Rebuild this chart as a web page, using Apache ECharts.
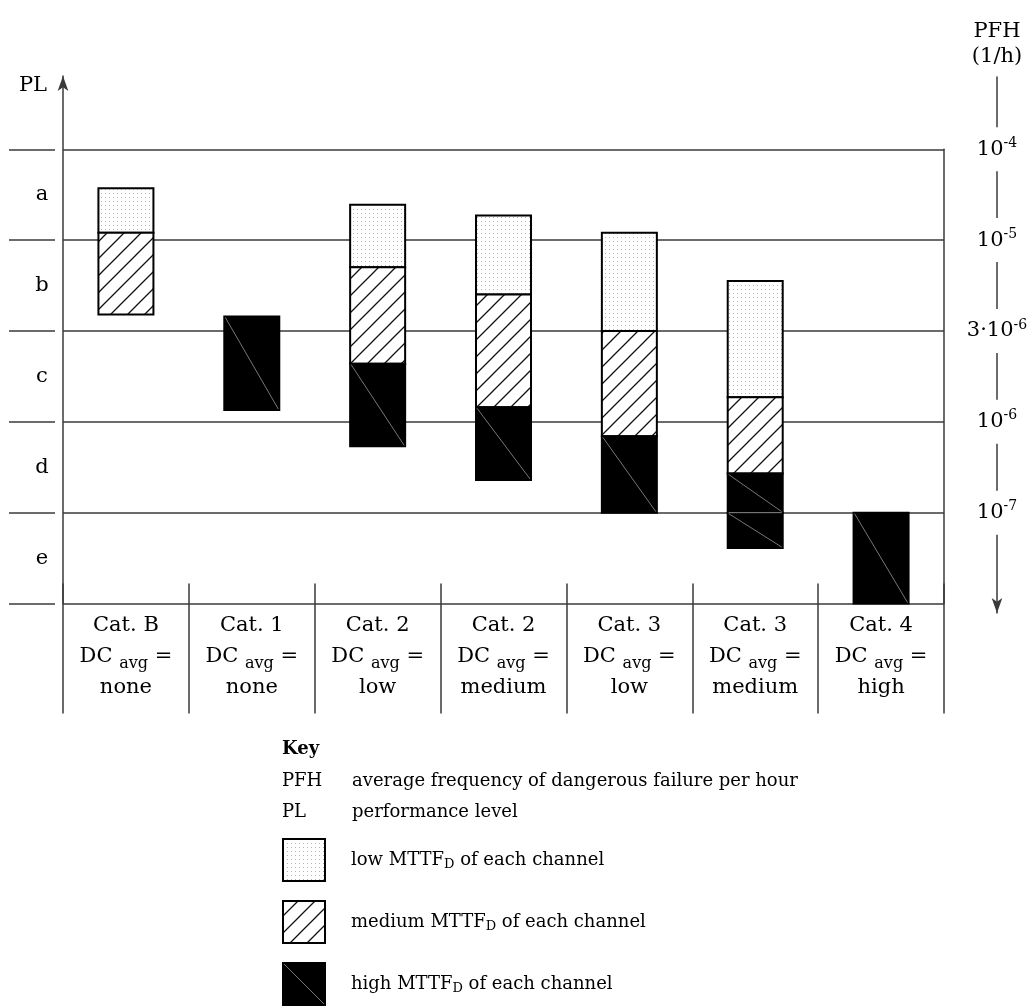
<!DOCTYPE html>
<html>
<head>
<meta charset="utf-8">
<script src="https://cdn.jsdelivr.net/npm/echarts@6/dist/echarts.min.js"></script>
<style>
  html, body { margin: 0; padding: 0; background: #fff; }
  #chart { width: 1036px; height: 1008px; }
</style>
</head>
<body>
<div id="chart"></div>
<script>
// ---------- data ----------
const categories = ['Cat. B', 'Cat. 1', 'Cat. 2', 'Cat. 2', 'Cat. 3', 'Cat. 3', 'Cat. 4'];
const dcAvg = ['none', 'none', 'low', 'medium', 'low', 'medium', 'high'];
// PL bands from bottom to top (value scale: e = 0..1, d = 1..2, ... a = 4..5)
const plLevels = ['e', 'd', 'c', 'b', 'a'];
const plLabelValues = [0.5, 1.5, 2.5, 3.5, 4.5];
// PFH tick labels at band boundaries 1..5
const pfhValues = [1, 2, 3, 4, 5];
const pfhBase = ['10', '10', '3·10', '10', '10'];
const pfhExp = ['-7', '-6', '-6', '-5', '-4'];
// segments: [category index, lower bound, upper bound]
const lowMttf = [[0, 4.08, 4.57], [2, 3.70, 4.39], [3, 3.40, 4.27], [4, 3.00, 4.08], [5, 2.27, 3.55]];
const mediumMttf = [[0, 3.18, 4.08], [2, 2.64, 3.70], [3, 2.16, 3.40], [4, 1.84, 3.00], [5, 1.43, 2.27]];
const highMttf = [[1, 2.13, 3.16], [2, 1.73, 2.64], [3, 1.36, 2.16], [4, 1.00, 1.84], [5, 1.00, 1.43], [5, 0.61, 1.00], [6, 0.00, 1.00]];
const keyRows = [['PFH', 'average frequency of dangerous failure per hour'], ['PL', 'performance level']];

// ---------- styling helpers ----------
const FONT = 'DejaVu Serif';
const LINE = '#3a3a3a';

function makeCanvas(w, h) { const c = document.createElement('canvas'); c.width = w; c.height = h; return c; }
const dotCanvas = (function () {
  const c = makeCanvas(4, 4); const g = c.getContext('2d');
  g.fillStyle = '#fff'; g.fillRect(0, 0, 4, 4);
  g.fillStyle = '#b4b4b4'; g.fillRect(1, 1, 1, 1);
  return c;
})();
const hatchCanvas = (function () {
  const s = 17; const c = makeCanvas(s, s); const g = c.getContext('2d');
  g.fillStyle = '#fff'; g.fillRect(0, 0, s, s);
  g.strokeStyle = '#111'; g.lineWidth = 1.3;
  g.beginPath();
  g.moveTo(0, s); g.lineTo(s, 0);
  g.moveTo(-2, 2); g.lineTo(2, -2);
  g.moveTo(s - 2, s + 2); g.lineTo(s + 2, s - 2);
  g.stroke();
  return c;
})();
const fills = {
  low: { image: dotCanvas, repeat: 'repeat' },
  medium: { image: hatchCanvas, repeat: 'repeat' },
  high: '#000'
};

function legendIcon(kind) {
  const w = 44, h = 44; const c = makeCanvas(w, h); const g = c.getContext('2d');
  if (kind === 'high') { g.fillStyle = '#000'; }
  else { g.fillStyle = g.createPattern(kind === 'low' ? dotCanvas : hatchCanvas, 'repeat'); }
  g.fillRect(0, 0, w, h);
  if (kind === 'high') {
    g.strokeStyle = '#777'; g.lineWidth = 1;
    g.beginPath(); g.moveTo(1, 1); g.lineTo(w - 1, h - 1); g.stroke();
  }
  g.strokeStyle = '#000'; g.lineWidth = 2; g.strokeRect(1, 1, w - 2, h - 2);
  return 'image://' + c.toDataURL();
}

function makeRender(kind) {
  return function (params, api) {
    const c = api.value(0), lo = api.value(1), hi = api.value(2);
    const pTop = api.coord([c, hi]);
    const pBot = api.coord([c, lo]);
    const w = api.size([1, 0])[0] * 0.437;
    const x = pTop[0] - w / 2, y = pTop[1], h = pBot[1] - pTop[1];
    const children = [{
      type: 'rect', shape: { x: x, y: y, width: w, height: h },
      style: { fill: fills[kind], stroke: '#000', lineWidth: 2 }
    }];
    if (kind === 'high') {
      children.push({ type: 'line', shape: { x1: x + 1, y1: y + 1, x2: x + w - 1, y2: y + h - 1 }, style: { stroke: '#777', lineWidth: 1 } });
      const continues = highMttf.some(s => s[0] === c && s[1] === hi);
      if (continues) {
        children.push({ type: 'line', shape: { x1: x + 1, y1: y, x2: x + w - 1, y2: y }, style: { stroke: '#888', lineWidth: 1 } });
      }
    }
    return { type: 'group', children: children };
  };
}

const legendText = { low: 'low', medium: 'medium', high: 'high' };

const option = {
  backgroundColor: '#fff',
  animation: false,
  textStyle: { fontFamily: FONT, color: '#000' },
  grid: [
    // 0: main plot (bars)
    { left: 63, width: 881, top: 149.25, height: 454.25 },
    // 1: short left line stubs
    { left: 9, width: 46, top: 149.25, height: 454.25 },
    // 2: PFH axis on the right
    { left: 960, right: 39, top: 77, bottom: 395 },
    // 3: PL arrow axis
    { left: 63, width: 10, top: 76, bottom: 404.5 }
  ],
  xAxis: [
    {
      type: 'category', gridIndex: 0, position: 'bottom',
      data: categories.map((c, i) => c + ' ' + dcAvg[i]),
      boundaryGap: true,
      axisLine: { show: false },
      axisTick: { show: true, interval: 0, length: 110, lineStyle: { color: LINE, width: 1.5 } },
      axisLabel: {
        interval: 0, margin: 7,
        formatter: function (v, i) {
          return '{t|' + categories[i] + '}\n{t|DC }{s|avg}{t| =}\n{t|' + dcAvg[i] + '}';
        },
        rich: {
          t: { fontFamily: FONT, fontSize: 21, lineHeight: 31, color: '#000' },
          s: { fontFamily: FONT, fontSize: 16, lineHeight: 31, color: '#000', padding: [14, 0, 0, 0] }
        }
      },
      splitLine: { show: false }
    },
    {
      type: 'category', gridIndex: 0, position: 'bottom', offset: 0,
      data: categories.map((c, i) => c + ' ' + dcAvg[i]),
      boundaryGap: true,
      axisLine: { show: false },
      axisTick: { show: true, inside: true, interval: 0, length: 20, lineStyle: { color: LINE, width: 1.5 } },
      axisLabel: { show: false },
      splitLine: { show: false }
    },
    { type: 'value', gridIndex: 1, show: false, min: 0, max: 1 },
    { type: 'value', gridIndex: 2, show: false, min: 0, max: 1 },
    { type: 'value', gridIndex: 3, show: false, min: 0, max: 1 }
  ],
  yAxis: [
    {
      type: 'value', gridIndex: 0, min: 0, max: 5, interval: 1,
      axisLine: { show: false }, axisTick: { show: false },
      splitLine: { show: true, lineStyle: { color: LINE, width: 1.5 } },
      axisLabel: {
        customValues: plLabelValues, margin: 21, align: 'center',
        fontFamily: FONT, fontSize: 21, color: '#000',
        formatter: v => plLevels[Math.floor(v)]
      }
    },
    {
      type: 'value', gridIndex: 0, position: 'right', min: 0, max: 5,
      axisLine: { show: true, onZero: false, lineStyle: { color: LINE, width: 1.5 } },
      axisTick: { show: false }, axisLabel: { show: false }, splitLine: { show: false }
    },
    {
      type: 'value', gridIndex: 1, min: 0, max: 5, interval: 1,
      axisLine: { show: false }, axisTick: { show: false }, axisLabel: { show: false },
      splitLine: { show: true, lineStyle: { color: LINE, width: 1.5 } }
    },
    {
      type: 'value', gridIndex: 2, position: 'right',
      min: (603.5 - 613) / 90.85, max: (603.5 - 77) / 90.85,
      name: 'PFH\n(1/h)', nameLocation: 'end', nameGap: 8,
      nameTextStyle: { fontFamily: FONT, fontSize: 21, lineHeight: 25, color: '#000', align: 'center' },
      axisLine: { show: true, onZero: false, symbol: ['arrow', 'none'], symbolSize: [8, 15], lineStyle: { color: LINE, width: 1.5 } },
      axisTick: { show: false },
      splitLine: { show: false },
      axisLabel: {
        customValues: pfhValues, margin: 0, align: 'center',
        backgroundColor: '#fff', padding: [9, 2, 9, 2],
        formatter: function (v) {
          const i = pfhValues.indexOf(Math.round(v));
          return '{b|' + pfhBase[i] + '}{p|' + pfhExp[i] + '}';
        },
        rich: {
          b: { fontFamily: FONT, fontSize: 21, color: '#000' },
          p: { fontFamily: FONT, fontSize: 14, color: '#000', padding: [0, 0, 12, 0] }
        }
      }
    },
    {
      type: 'value', gridIndex: 3, min: 0, max: 1,
      name: 'PL', nameLocation: 'end', nameGap: -10,
      nameTextStyle: { fontFamily: FONT, fontSize: 21, color: '#000', align: 'right', verticalAlign: 'middle', padding: [0, 16, 0, 0] },
      axisLine: { show: true, onZero: false, symbol: ['none', 'arrow'], symbolSize: [8, 15], lineStyle: { color: LINE, width: 1.5 } },
      axisTick: { show: false }, axisLabel: { show: false }, splitLine: { show: false }
    }
  ],
  legend: {
    orient: 'vertical', left: 282, top: 838, padding: 0,
    itemWidth: 44, itemHeight: 44, itemGap: 18,
    selectedMode: false,
    data: [
      { name: 'low', icon: legendIcon('low') },
      { name: 'medium', icon: legendIcon('medium') },
      { name: 'high', icon: legendIcon('high') }
    ],
    formatter: function (name) {
      return '{t|' + legendText[name] + ' MTTF}{s|D}{t| of each channel}';
    },
    textStyle: {
      padding: [0, 0, 0, 20],
      rich: {
        t: { fontFamily: FONT, fontSize: 18, color: '#000' },
        s: { fontFamily: FONT, fontSize: 13, color: '#000', padding: [10, 0, 0, 0] }
      }
    }
  },
  graphic: [
    { type: 'text', x: 282, y: 749, style: { text: 'Key', fontFamily: FONT, fontSize: 18, fontWeight: 'bold', fill: '#000', verticalAlign: 'middle' } },
    { type: 'text', x: 282, y: 781, style: { text: keyRows[0][0], fontFamily: FONT, fontSize: 18, fill: '#000', verticalAlign: 'middle' } },
    { type: 'text', x: 352, y: 781, style: { text: keyRows[0][1], fontFamily: FONT, fontSize: 18, fill: '#000', verticalAlign: 'middle' } },
    { type: 'text', x: 282, y: 812, style: { text: keyRows[1][0], fontFamily: FONT, fontSize: 18, fill: '#000', verticalAlign: 'middle' } },
    { type: 'text', x: 352, y: 812, style: { text: keyRows[1][1], fontFamily: FONT, fontSize: 18, fill: '#000', verticalAlign: 'middle' } }
  ],
  series: [
    { name: 'low', type: 'custom', xAxisIndex: 0, yAxisIndex: 0, renderItem: makeRender('low'), data: lowMttf, itemStyle: { color: '#ddd' }, z: 3 },
    { name: 'medium', type: 'custom', xAxisIndex: 0, yAxisIndex: 0, renderItem: makeRender('medium'), data: mediumMttf, itemStyle: { color: '#888' }, z: 3 },
    { name: 'high', type: 'custom', xAxisIndex: 0, yAxisIndex: 0, renderItem: makeRender('high'), data: highMttf, itemStyle: { color: '#000' }, z: 3 }
  ]
};

const chart = echarts.init(document.getElementById('chart'), null, { renderer: 'canvas' });
chart.setOption(option);
</script>
</body>
</html>
